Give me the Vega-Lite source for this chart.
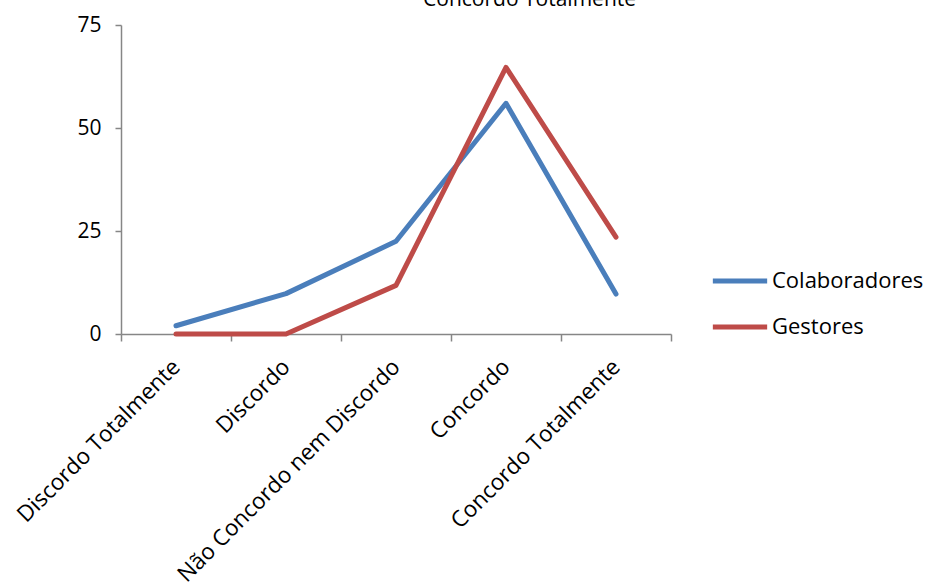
{
  "$schema": "https://vega.github.io/schema/vega-lite/v6.json",
  "autosize": {"type": "none"},
  "padding": {"left": 121, "top": 25, "right": 261, "bottom": 253},
  "width": 550,
  "height": 309,
  "background": "white",
  "title": {
    "text": "Concordo Totalmente",
    "font": "Open Sans",
    "fontSize": 21,
    "fontWeight": "normal",
    "color": "black",
    "anchor": "start",
    "baseline": "bottom",
    "dx": 410,
    "offset": -17
  },
  "config": {
    "view": {"stroke": null},
    "font": "Open Sans",
    "axis": {"domainColor": "#868686", "tickColor": "#868686", "domainWidth": 1.5, "tickWidth": 1.5, "labelColor": "black", "labelFont": "Open Sans", "grid": false, "title": null}
  },
  "data": {
    "values": [
      {"cat": "Discordo Totalmente", "grupo": "Colaboradores", "v": 2.0},
      {"cat": "Discordo", "grupo": "Colaboradores", "v": 9.8},
      {"cat": "Não Concordo nem Discordo", "grupo": "Colaboradores", "v": 22.5},
      {"cat": "Concordo", "grupo": "Colaboradores", "v": 56.0},
      {"cat": "Concordo Totalmente", "grupo": "Colaboradores", "v": 9.7},
      {"cat": "Discordo Totalmente", "grupo": "Gestores", "v": 0},
      {"cat": "Discordo", "grupo": "Gestores", "v": 0},
      {"cat": "Não Concordo nem Discordo", "grupo": "Gestores", "v": 11.8},
      {"cat": "Concordo", "grupo": "Gestores", "v": 64.7},
      {"cat": "Concordo Totalmente", "grupo": "Gestores", "v": 23.5}
    ]
  },
  "mark": {"type": "line", "strokeWidth": 5, "strokeCap": "round", "strokeJoin": "round"},
  "encoding": {
    "x": {
      "field": "cat",
      "type": "nominal",
      "sort": ["Discordo Totalmente", "Discordo", "Não Concordo nem Discordo", "Concordo", "Concordo Totalmente"],
      "scale": {"type": "band", "paddingInner": 0, "paddingOuter": 0},
      "axis": {"labelAngle": -45, "labelAlign": "right", "labelBaseline": "middle", "tickBand": "extent", "tickSize": 7, "labelPadding": 22, "labelFontSize": 22.5, "labelLimit": 0}
    },
    "y": {
      "field": "v",
      "type": "quantitative",
      "scale": {"domain": [0, 75], "nice": false},
      "axis": {"values": [0, 25, 50, 75], "tickSize": 6, "labelPadding": 14, "labelFontSize": 21}
    },
    "color": {
      "field": "grupo",
      "type": "nominal",
      "scale": {"domain": ["Colaboradores", "Gestores"], "range": ["#4A7EBB", "#BE4B48"]},
      "legend": {
        "title": null,
        "orient": "none",
        "legendX": 589,
        "legendY": 226,
        "symbolType": "stroke",
        "symbolSize": 2950,
        "symbolStrokeWidth": 5,
        "labelFont": "Open Sans",
        "labelFontSize": 22,
        "labelColor": "black",
        "labelOffset": 2,
        "rowPadding": 5
      }
    }
  }
}
